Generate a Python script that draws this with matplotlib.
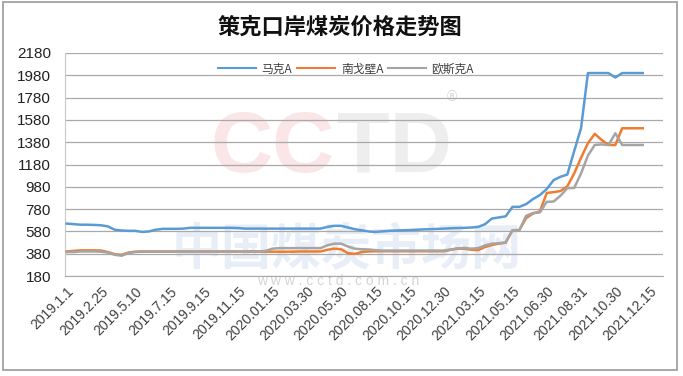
import matplotlib
matplotlib.use("Agg")
import matplotlib.pyplot as plt
import matplotlib.transforms as mtransforms
from matplotlib.patches import Rectangle

plt.rcParams['font.family'] = ['Liberation Sans', 'Noto Sans CJK SC', 'DejaVu Sans']

title = "策克口岸煤炭价格走势图"
series_names = ["马克A", "南戈壁A", "欧斯克A"]
tick_labels = ["2019.1.1", "2019.2.25", "2019.5.10", "2019.7.15", "2019.9.15",
               "2019.11.15", "2020.01.15", "2020.03.30", "2020.05.30", "2020.08.15",
               "2020.10.15", "2020.12.30", "2021.03.15", "2021.05.15", "2021.06.30",
               "2021.08.31", "2021.10.30", "2021.12.15"]

# 马克A
makea = [650, 645, 640, 640, 638, 635, 625, 595, 588, 585,
         585, 575, 580, 595, 603, 603, 603, 605, 612, 612,
         612, 612, 612, 612, 612, 610, 605, 605, 605, 605,
         605, 605, 605, 605, 605, 605, 605, 605, 620, 630,
         630, 615, 600, 590, 580, 575, 580, 585, 588, 590,
         592, 595, 598, 600, 602, 605, 608, 610, 612, 615,
         620, 645, 695, 705, 715, 800, 800, 825, 870, 906,
         960, 1040, 1070, 1090, 1300, 1507, 2000, 2000, 2000, 2000,
         1960, 2000, 2000, 2000, 2000]

# 南戈壁A
nangobi = [400, 405, 410, 410, 410, 408, 395, 375, 370, 390,
           398, 400, 400, 400, 400, 400, 400, 400, 400, 400,
           400, 400, 400, 400, 400, 400, 400, 400, 400, 398,
           398, 398, 398, 398, 400, 400, 400, 400, 415, 425,
           420, 385, 378, 395, 400, 402, 402, 402, 402, 402,
           402, 402, 402, 402, 402, 402, 415, 425, 425, 415,
           412, 440, 458, 470, 480, 590, 592, 700, 740, 760,
           925, 932, 942, 985, 1100, 1240, 1370, 1455, 1400, 1355,
           1355, 1505, 1505, 1505, 1505]

# 欧斯克A
ousike = [395, 395, 400, 400, 400, 398, 390, 370, 362, 385,
          395, 398, 398, 398, 398, 398, 398, 398, 398, 398,
          398, 398, 398, 398, 398, 398, 398, 398, 398, 405,
          425, 430, 430, 430, 430, 430, 430, 430, 455, 470,
          470, 445, 425, 420, 418, 412, 408, 408, 408, 408,
          408, 408, 408, 408, 408, 408, 418, 428, 432, 425,
          430, 455, 470, 475, 478, 590, 592, 720, 745, 750,
          845, 848, 900, 968, 970, 1100, 1260, 1355, 1360, 1355,
          1460, 1355, 1355, 1355, 1355]

colors = ["#5b9bd5", "#ed7d31", "#a5a5a5"]
label_step = 5

W, H = 683, 376
fig = plt.figure(figsize=(W / 100, H / 100), dpi=100)
ax = fig.add_axes([65 / W, 1 - 276 / H, 598 / W, 223 / H])

def px(x, y):
    return x / W, 1 - y / H

# watermark, kept behind the axes content
fig.text(*px(335, 150), "CC", ha="right", va="center", fontsize=62, fontweight="bold",
         color="#fae6e6", zorder=-1)
fig.text(*px(337, 150), "TD", ha="left", va="center", fontsize=62, fontweight="bold",
         color="#eeeeee", zorder=-1)
fig.text(*px(452, 97), "®", ha="center", va="center", fontsize=10, color="#d8d8d8", zorder=-1)
fig.text(*px(347, 250), "中国煤炭市场网", ha="center", va="center", fontsize=36,
         fontweight="bold", color="#e8eef7", family=["Noto Sans CJK SC"], zorder=-1)
fig.text(*px(338, 281), "w w w . c c t d . c o m . c n", ha="center", va="center",
         fontsize=10, color="#d5d5d5", zorder=-1)

x = list(range(len(makea)))
for vals, name, c in zip([makea, nangobi, ousike], series_names, colors):
    ax.plot(x, vals, color=c, lw=1.8, label=name, zorder=3)

ax.set_ylim(180, 2180)
ax.set_yticks(range(180, 2181, 200))
ax.set_xlim(-0.25, 86.95)
ax.set_xticks(range(0, label_step * len(tick_labels), label_step))
ax.set_xticklabels(tick_labels, rotation=45, ha="right", va="top",
                   rotation_mode="anchor", fontsize=10, color="#404040")
offset = mtransforms.ScaledTranslation(8 / 100, 0, fig.dpi_scale_trans)
for lab in ax.get_xticklabels():
    lab.set_transform(lab.get_transform() + offset)
ax.tick_params(axis="y", length=0, pad=10, labelsize=11, labelcolor="#222222")
ax.tick_params(axis="x", length=0, pad=6)
ax.set_facecolor("none")
ax.grid(axis="y", color="#a9a9a9", lw=0.9)
ax.set_axisbelow(True)
for s in ["top", "right"]:
    ax.spines[s].set_visible(False)
ax.spines["left"].set_color("#c8c8c8")
ax.spines["bottom"].set_color("#a9a9a9")

leg = ax.legend(loc="upper center", bbox_to_anchor=(0.47, 1.005), ncol=3, frameon=False,
                handlelength=3.2, columnspacing=0.4, handletextpad=0.5,
                prop={"family": ["Noto Sans CJK SC"], "size": 8.5})
for t in leg.get_texts():
    t.set_color("#404040")
for l in leg.get_lines():
    l.set_linewidth(1.5)

fig.text(*px(340, 27), title, ha="center", va="center", fontsize=16, fontweight="bold",
         family=["Noto Sans CJK SC"], color="#111111")

fig.patches.append(Rectangle((3 / W, 6 / H), 674 / W, 368 / H, transform=fig.transFigure,
                             fill=False, edgecolor="#9a9a9a", lw=1.2))

fig.savefig("out.png", dpi=100)
